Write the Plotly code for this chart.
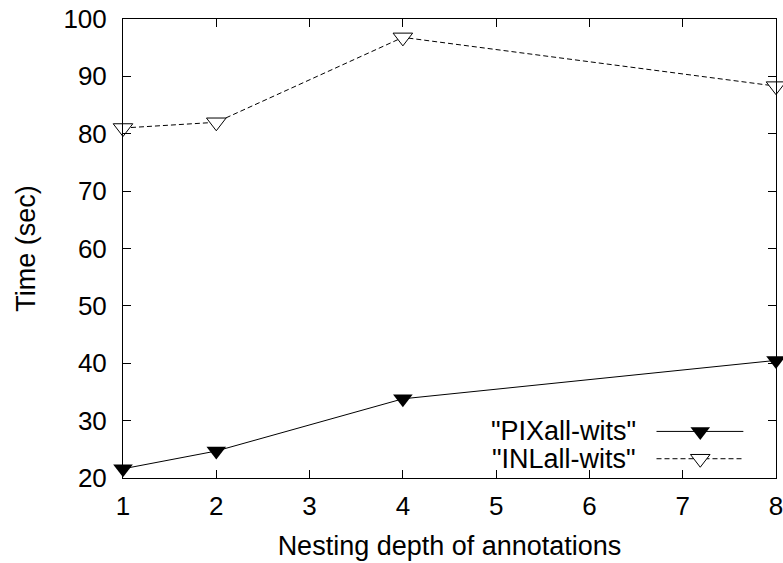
import plotly.graph_objects as go

# ---- data ----
depth = [1, 2, 4, 8]
pix_all_wits = [21.6, 24.7, 33.8, 40.5]
inl_all_wits = [81.0, 82.0, 96.8, 88.3]
series_names = ['"PIXall-wits"', '"INLall-wits"']
x_ticks = [1, 2, 3, 4, 5, 6, 7, 8]
y_ticks = [20, 30, 40, 50, 60, 70, 80, 90, 100]

FONT = "Liberation Sans, Arial, Helvetica, sans-serif"
FS = 27       # titles / key text
FS_TICK = 26  # tick labels

fig = go.Figure()

fig.add_trace(go.Scatter(
    x=depth, y=pix_all_wits, mode="lines+markers", name=series_names[0],
    line=dict(color="black", width=1),
    marker=dict(symbol="triangle-down", size=17, color="black"),
    cliponaxis=False, showlegend=False))

fig.add_trace(go.Scatter(
    x=depth, y=inl_all_wits, mode="lines+markers", name=series_names[1],
    line=dict(color="black", width=1, dash="5px,3px"),
    marker=dict(symbol="triangle-down", size=17, color="white",
                line=dict(color="black", width=1)),
    cliponaxis=False, showlegend=False))

# ---- hand-drawn gnuplot-style key (on an overlay axis in 0..1 space) ----
key_rows = [0.1015, 0.042]
key_x0, key_x1, key_xm, key_text_x = 0.817, 0.950, 0.884, 0.788
styles = [
    dict(line=dict(color="black", width=1),
         marker=dict(symbol="triangle-down", size=17, color="black")),
    dict(line=dict(color="black", width=1, dash="5px,3px"),
         marker=dict(symbol="triangle-down", size=17, color="white",
                     line=dict(color="black", width=1))),
]
for name, yy, st in zip(series_names, key_rows, styles):
    fig.add_trace(go.Scatter(x=[key_x0, key_x1], y=[yy, yy], mode="lines",
                             line=st["line"], xaxis="x2", yaxis="y2",
                             showlegend=False, hoverinfo="skip"))
    fig.add_trace(go.Scatter(x=[key_xm], y=[yy], mode="markers",
                             marker=st["marker"], xaxis="x2", yaxis="y2",
                             showlegend=False, hoverinfo="skip"))
    fig.add_annotation(x=key_text_x, y=yy, xref="x2", yref="y2", text=name,
                       showarrow=False, xanchor="right", yanchor="middle",
                       font=dict(family=FONT, size=FS, color="black"))

axis_common = dict(
    showgrid=False, zeroline=False, showline=True, linecolor="black",
    linewidth=1, mirror="ticks", ticks="inside", ticklen=8,
    tickcolor="black", tickwidth=1, automargin=False,
    ticklabeloverflow="allow",
    tickfont=dict(family=FONT, size=FS_TICK, color="black"),
)

fig.update_layout(
    width=783, height=563,
    margin=dict(l=123, r=7, t=19, b=85),
    paper_bgcolor="white", plot_bgcolor="white",
    font=dict(family=FONT, size=FS, color="black"),
    xaxis=dict(range=[1, 8], tickvals=x_ticks, ticklabelstandoff=5,
               title=dict(text="Nesting depth of annotations", standoff=15,
                          font=dict(family=FONT, size=FS)),
               **axis_common),
    yaxis=dict(range=[20, 100], tickvals=y_ticks, ticklabelstandoff=10,
               title=dict(text="Time (sec)", standoff=19,
                          font=dict(family=FONT, size=FS)),
               **axis_common),
    xaxis2=dict(range=[0, 1], overlaying="x", visible=False),
    yaxis2=dict(range=[0, 1], overlaying="y", visible=False),
)

# remove the default 8px page margin so the figure fills the window exactly
fig.write_html(
    "out.html",
    config={"displayModeBar": False},
    post_script="document.body.style.margin='0';"
                "document.documentElement.style.overflow='hidden';",
)
